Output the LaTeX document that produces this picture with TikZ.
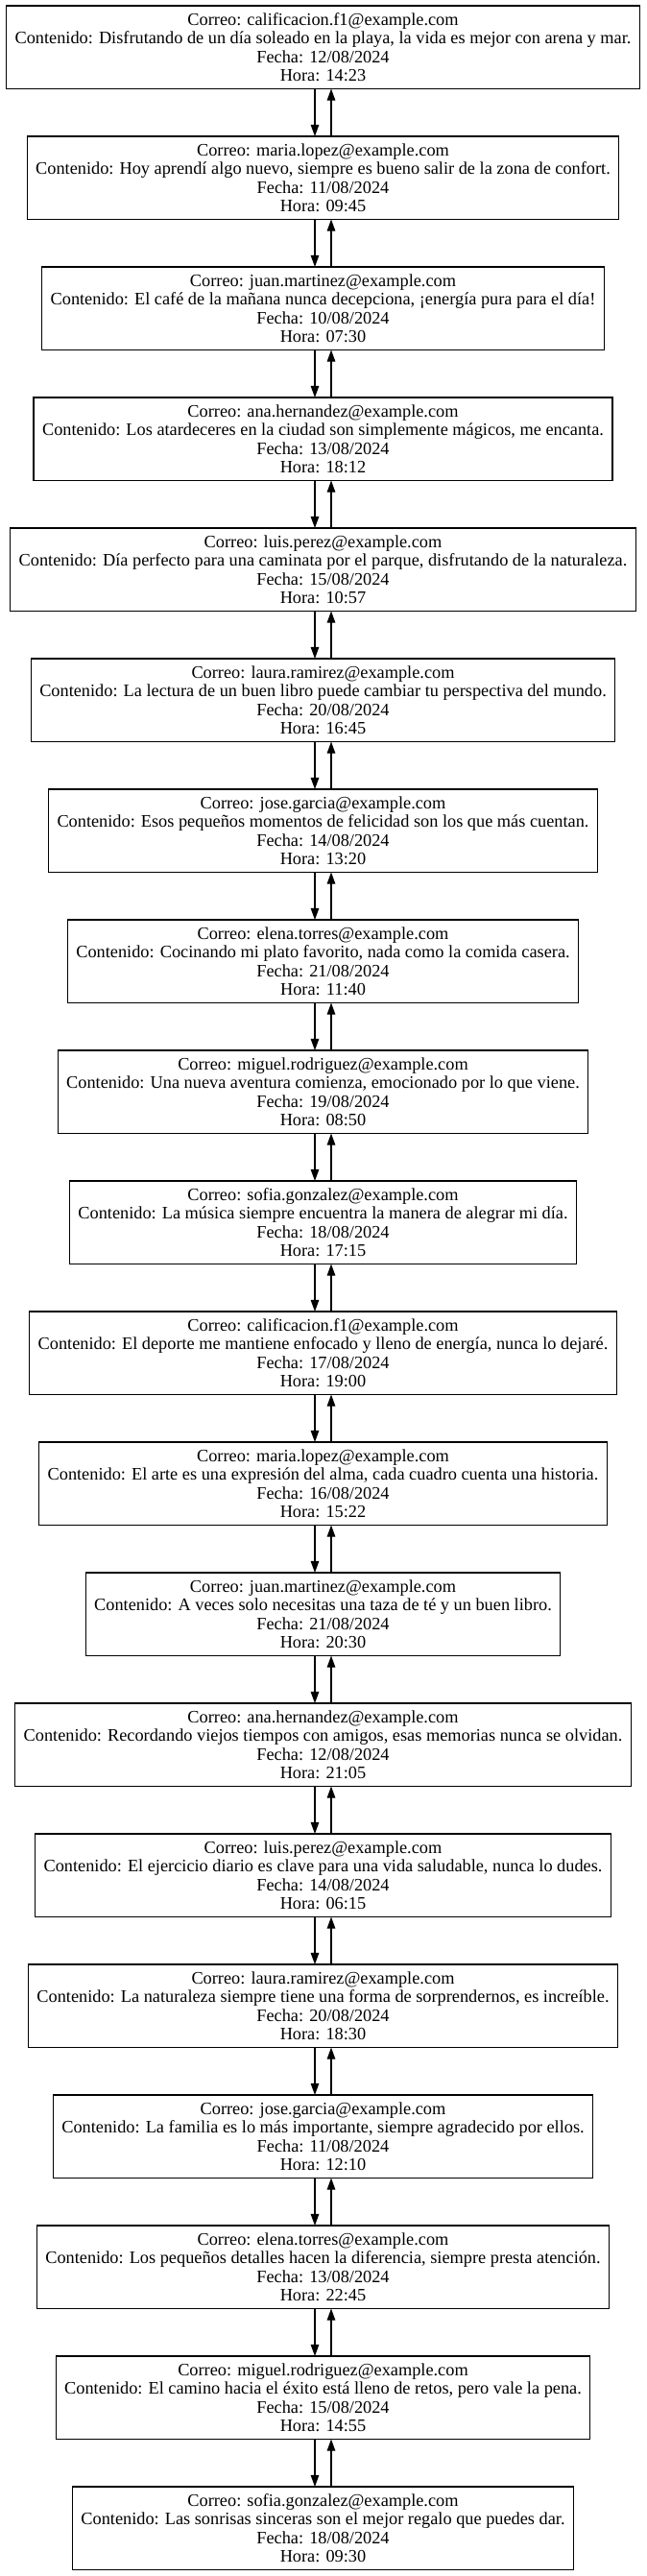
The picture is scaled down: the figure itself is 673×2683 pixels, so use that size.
\documentclass[tikz,border=0pt]{standalone}
\usepackage{fontspec}
\setmainfont{Liberation Serif}
\usetikzlibrary{arrows.meta}
\tikzset{
  msg/.style={draw=black, line width=1.2pt, rectangle, align=center,
    minimum height=86.5pt, inner xsep=9pt, inner ysep=0pt, outer sep=0pt,
    font=\fontsize{18.3}{19.4}\selectfont, anchor=center},
  arr/.style={line width=1.2pt, -{Triangle[length=12.2pt,width=8.6pt]}},
}
\begin{document}
\begin{tikzpicture}[x=1pt,y=1pt]
\useasboundingbox (0,0) rectangle (673,-2683);
\def\cx{336.5}
\node[msg] (m1) at (\cx,{-(49.25+136*0)}) {Correo: calificacion.f1@example.com\\Contenido: Disfrutando de un día soleado en la playa, la vida es mejor con arena y mar.\\Fecha: 12/08/2024\\Hora: 14:23};
\node[msg] (m2) at (\cx,{-(49.25+136*1)}) {Correo: maria.lopez@example.com\\Contenido: Hoy aprendí algo nuevo, siempre es bueno salir de la zona de confort.\\Fecha: 11/08/2024\\Hora: 09:45};
\node[msg] (m3) at (\cx,{-(49.25+136*2)}) {Correo: juan.martinez@example.com\\Contenido: El café de la mañana nunca decepciona, ¡energía pura para el día!\\Fecha: 10/08/2024\\Hora: 07:30};
\node[msg] (m4) at (\cx,{-(49.25+136*3)}) {Correo: ana.hernandez@example.com\\Contenido: Los atardeceres en la ciudad son simplemente mágicos, me encanta.\\Fecha: 13/08/2024\\Hora: 18:12};
\node[msg] (m5) at (\cx,{-(49.25+136*4)}) {Correo: luis.perez@example.com\\Contenido: Día perfecto para una caminata por el parque, disfrutando de la naturaleza.\\Fecha: 15/08/2024\\Hora: 10:57};
\node[msg] (m6) at (\cx,{-(49.25+136*5)}) {Correo: laura.ramirez@example.com\\Contenido: La lectura de un buen libro puede cambiar tu perspectiva del mundo.\\Fecha: 20/08/2024\\Hora: 16:45};
\node[msg] (m7) at (\cx,{-(49.25+136*6)}) {Correo: jose.garcia@example.com\\Contenido: Esos pequeños momentos de felicidad son los que más cuentan.\\Fecha: 14/08/2024\\Hora: 13:20};
\node[msg] (m8) at (\cx,{-(49.25+136*7)}) {Correo: elena.torres@example.com\\Contenido: Cocinando mi plato favorito, nada como la comida casera.\\Fecha: 21/08/2024\\Hora: 11:40};
\node[msg] (m9) at (\cx,{-(49.25+136*8)}) {Correo: miguel.rodriguez@example.com\\Contenido: Una nueva aventura comienza, emocionado por lo que viene.\\Fecha: 19/08/2024\\Hora: 08:50};
\node[msg] (m10) at (\cx,{-(49.25+136*9)}) {Correo: sofia.gonzalez@example.com\\Contenido: La música siempre encuentra la manera de alegrar mi día.\\Fecha: 18/08/2024\\Hora: 17:15};
\node[msg] (m11) at (\cx,{-(49.25+136*10)}) {Correo: calificacion.f1@example.com\\Contenido: El deporte me mantiene enfocado y lleno de energía, nunca lo dejaré.\\Fecha: 17/08/2024\\Hora: 19:00};
\node[msg] (m12) at (\cx,{-(49.25+136*11)}) {Correo: maria.lopez@example.com\\Contenido: El arte es una expresión del alma, cada cuadro cuenta una historia.\\Fecha: 16/08/2024\\Hora: 15:22};
\node[msg] (m13) at (\cx,{-(49.25+136*12)}) {Correo: juan.martinez@example.com\\Contenido: A veces solo necesitas una taza de té y un buen libro.\\Fecha: 21/08/2024\\Hora: 20:30};
\node[msg] (m14) at (\cx,{-(49.25+136*13)}) {Correo: ana.hernandez@example.com\\Contenido: Recordando viejos tiempos con amigos, esas memorias nunca se olvidan.\\Fecha: 12/08/2024\\Hora: 21:05};
\node[msg] (m15) at (\cx,{-(49.25+136*14)}) {Correo: luis.perez@example.com\\Contenido: El ejercicio diario es clave para una vida saludable, nunca lo dudes.\\Fecha: 14/08/2024\\Hora: 06:15};
\node[msg] (m16) at (\cx,{-(49.25+136*15)}) {Correo: laura.ramirez@example.com\\Contenido: La naturaleza siempre tiene una forma de sorprendernos, es increíble.\\Fecha: 20/08/2024\\Hora: 18:30};
\node[msg] (m17) at (\cx,{-(49.25+136*16)}) {Correo: jose.garcia@example.com\\Contenido: La familia es lo más importante, siempre agradecido por ellos.\\Fecha: 11/08/2024\\Hora: 12:10};
\node[msg] (m18) at (\cx,{-(49.25+136*17)}) {Correo: elena.torres@example.com\\Contenido: Los pequeños detalles hacen la diferencia, siempre presta atención.\\Fecha: 13/08/2024\\Hora: 22:45};
\node[msg] (m19) at (\cx,{-(49.25+136*18)}) {Correo: miguel.rodriguez@example.com\\Contenido: El camino hacia el éxito está lleno de retos, pero vale la pena.\\Fecha: 15/08/2024\\Hora: 14:55};
\node[msg] (m20) at (\cx,{-(49.25+136*19)}) {Correo: sofia.gonzalez@example.com\\Contenido: Las sonrisas sinceras son el mejor regalo que puedes dar.\\Fecha: 18/08/2024\\Hora: 09:30};
\foreach \a [evaluate=\a as \b using int(\a+1)] in {1,...,19}{
  \draw[arr] ([xshift=-8.5pt]m\a.south) -- ([xshift=-8.5pt]m\b.north);
  \draw[arr] ([xshift=8.5pt]m\b.north) -- ([xshift=8.5pt]m\a.south);
}
\end{tikzpicture}
\end{document}
